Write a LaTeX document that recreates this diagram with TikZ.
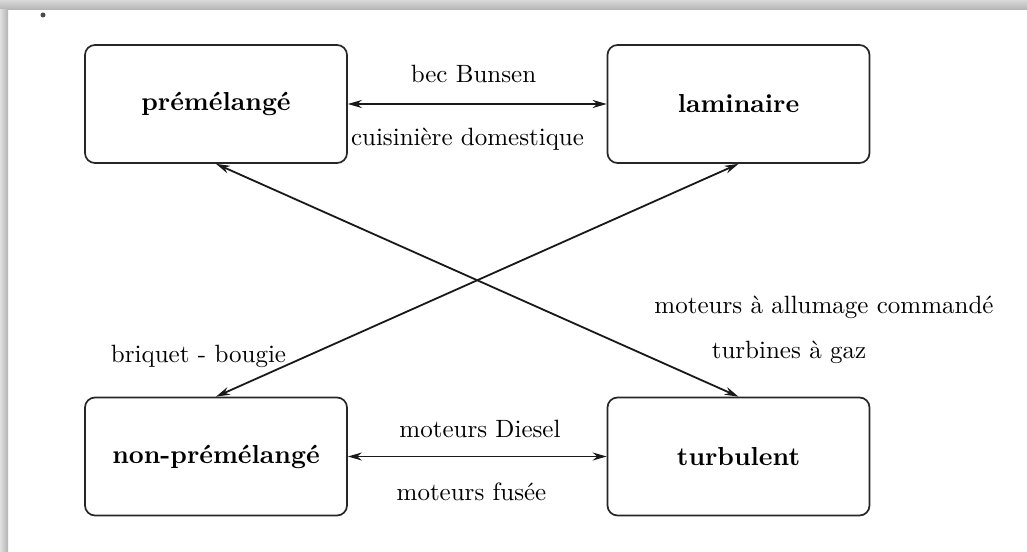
\documentclass[tikz,border=0pt]{standalone}
\usepackage{fontspec}
\setmainfont{lmroman10-regular.otf}[BoldFont=lmroman10-bold.otf]
\usetikzlibrary{arrows.meta}
\tikzset{
  box/.style={draw=black!85, line width=1.7pt, rounded corners=10pt, minimum width=262pt, minimum height=118pt, inner sep=0pt, font=\fontsize{26}{30}\selectfont\bfseries},
  lbl/.style={anchor=base, inner sep=0pt, text=black, font=\fontsize{25}{30}\selectfont},
  link/.style={line width=1.8pt, draw=black!90, {Stealth[length=14pt,width=8pt]}-{Stealth[length=14pt,width=8pt]}}
}
\begin{document}
\begin{tikzpicture}[x=1pt,y=-1pt]
\useasboundingbox (0,0) rectangle (1027,551);
\fill[white] (0,0) rectangle (1027,551);
\shade[top color=black!15, bottom color=black!30] (0,0) rectangle (1027,10);
\shade[left color=black!12, right color=black!30] (0,10) rectangle (8,551);
\fill[black!70] (43,15) circle (2.5pt);
\node[box] (prem) at (216,104) {prémélangé};
\node[box] (lam) at (738.5,104) {laminaire};
\node[box] (non) at (216,456.5) {non-prémélangé};
\node[box] (turb) at (738.5,456.5) {turbulent};
\draw[link] (prem.east) -- (lam.west);
\draw[link] (non.east) -- (turb.west);
\draw[link] (prem.south) -- (turb.north);
\draw[link] (lam.south) -- (non.north);
\node[lbl] (t1) at (473.5,82) {bec Bunsen};
\node[lbl] (t2) at (467.5,145) {cuisinière domestique};
\node[lbl] (b1) at (480,437) {moteurs Diesel};
\node[lbl] (b2) at (471.5,500) {moteurs fusée};
\node[lbl] (d1) at (198.5,362) {briquet - bougie};
\node[lbl] (d2) at (824,313) {moteurs à allumage commandé};
\node[lbl] (d3) at (789,358) {turbines à gaz};
\end{tikzpicture}
\end{document}
